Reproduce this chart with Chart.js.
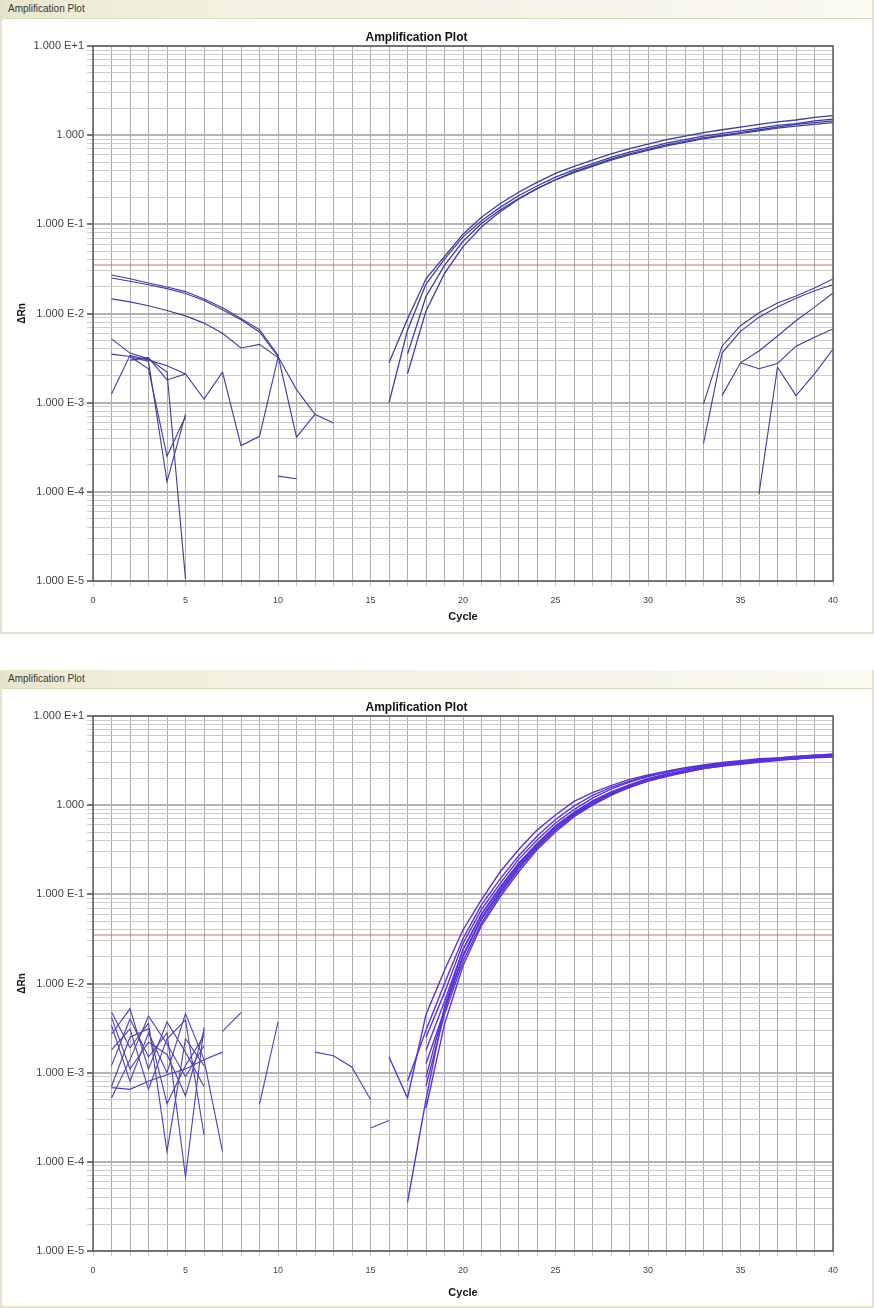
<!DOCTYPE html>
<html lang="en">
<head>
<meta charset="UTF-8">
<script src="https://cdn.jsdelivr.net/npm/chart.js"></script>
<title>Amplification Plot</title>
<style>
  body { margin: 0; background: #fff; font-family: Arial, "Liberation Sans", sans-serif; }
  .panel { position: absolute; left: 0; width: 874px; box-sizing: border-box;
           border: 2px solid #e4e1cf; border-top: none; background: #fff; }
  .bar { position: absolute; left: 0; top: 0; width: 870px; height: 18px;
         background: linear-gradient(to right, #e8e4cc 0%, #f1eedd 14%, #f6f4e8 60%, #faf9f2 100%);
         border-bottom: 1px solid #dcd8c0; }
  .bar span { position: absolute; left: 6px; top: 3px; font-size: 10px; color: #3a3a3a; }
  canvas { position: absolute; left: 0; }
</style>
</head>
<body>
  <div class="panel" style="top:0; height:634px;"><div class="bar"><span>Amplification Plot</span></div></div>
  <div class="panel" style="top:670px; height:638px;"><div class="bar"><span>Amplification Plot</span></div></div>
  <canvas id="plot1" width="874" height="614" style="top:18px;"></canvas>
  <canvas id="plot2" width="874" height="618" style="top:688px;"></canvas>

<script>
// threshold (same in both runs)
const thresholdRn = 0.035;

// ---- run 1 (top) ----
// baseline noise, first cycle of each trace + dRn per cycle
const topNoiseStarts = [1, 1, 1, 1, 1, 1, 2, 2, 10];
const topNoise = [
  [0.025, 0.023, 0.021, 0.019, 0.0168, 0.014, 0.011, 0.0085, 0.0062, 0.0033, 0.0014, 0.00074, 0.00059],
  [0.027, 0.0245, 0.022, 0.0198, 0.0176, 0.0145, 0.0116, 0.0088, 0.0066, 0.0034, 0.00041, 0.00074],
  [0.0146, 0.0135, 0.0122, 0.0108, 0.0094, 0.0078, 0.006, 0.0041, 0.0045, 0.0032],
  [0.0052, 0.0036, 0.0031, 0.0022, 0.0000105],
  [0.0035, 0.0033, 0.0029, 0.00013, 0.00074],
  [0.00125, 0.0034, 0.003, 0.0026, 0.0021],
  [0.003, 0.0032, 0.0018, 0.0021, 0.0011, 0.0022, 0.00033, 0.00042, 0.0032],
  [0.0033, 0.0024, 0.00025, 0.0007],
  [0.00015, 0.00014]
];
// amplified wells
const topAmpStarts = [16, 16, 17, 17];
const topAmp = [
  [0.0028, 0.0087, 0.0245, 0.0437, 0.0776, 0.120, 0.170, 0.229, 0.295, 0.372, 0.447, 0.525, 0.617, 0.708, 0.794, 0.891, 0.977, 1.07, 1.15, 1.23, 1.32, 1.41, 1.48, 1.58, 1.66],
  [0.001, 0.0065, 0.0214, 0.0407, 0.0724, 0.110, 0.155, 0.209, 0.269, 0.339, 0.407, 0.479, 0.562, 0.646, 0.724, 0.813, 0.891, 0.977, 1.05, 1.12, 1.20, 1.29, 1.35, 1.45, 1.51],
  [0.0021, 0.0107, 0.0282, 0.0562, 0.0933, 0.138, 0.191, 0.251, 0.316, 0.389, 0.457, 0.537, 0.617, 0.692, 0.776, 0.851, 0.933, 1.0, 1.07, 1.15, 1.23, 1.32, 1.38, 1.45],
  [0.0035, 0.0155, 0.0347, 0.0646, 0.102, 0.145, 0.195, 0.251, 0.316, 0.38, 0.447, 0.525, 0.603, 0.676, 0.758, 0.832, 0.912, 0.977, 1.05, 1.12, 1.20, 1.26, 1.32, 1.38]
];
// late risers
const topLateStarts = [33, 33, 34, 35, 36];
const topLate = [
  [0.00097, 0.0043, 0.0073, 0.0102, 0.0131, 0.0157, 0.0193, 0.0244],
  [0.00035, 0.0036, 0.0063, 0.0091, 0.0118, 0.0148, 0.018, 0.021],
  [0.0012, 0.0028, 0.0038, 0.0056, 0.0083, 0.0118, 0.017],
  [0.0028, 0.0024, 0.00275, 0.0043, 0.0054, 0.0067],
  [0.000095, 0.0025, 0.0012, 0.0021, 0.004]
];

// ---- run 2 (bottom) ----
const botNoiseStarts = [1, 1, 1, 1, 1, 1, 1, 1, 1, 7, 9, 12, 15];
const botNoise = [
  [0.0048, 0.0019, 0.0036, 0.00013, 0.0024, 0.0012],
  [0.0012, 0.004, 0.0015, 0.0028, 0.000068, 0.0032],
  [0.00052, 0.0014, 0.0043, 0.0021, 0.0009, 0.002],
  [0.0027, 0.0052, 0.0011, 0.0037, 0.0017, 0.0007],
  [0.0034, 0.0008, 0.0028, 0.001, 0.0046, 0.0014, 0.00013],
  [0.0007, 0.0025, 0.0031, 0.00045, 0.0012, 0.0026],
  [0.0018, 0.0031, 0.00065, 0.0024, 0.0039, 0.0002],
  [0.0042, 0.0011, 0.0022, 0.0016, 0.00055, 0.003],
  [0.00068, 0.00065, 0.0008, 0.00095, 0.0011, 0.0014, 0.0017],
  [0.0029, 0.0047],
  [0.00044, 0.0037],
  [0.0017, 0.00155, 0.00115, 0.0005],
  [0.00024, 0.00029]
];
const botAmpStarts = [16, 17, 18, 18, 18, 18, 18, 18, 17];
const botAmp = [
  [0.0015, 0.00052, 0.0045, 0.0141, 0.0398, 0.0871, 0.178, 0.316, 0.525, 0.776, 1.10, 1.38, 1.66, 1.95, 2.19, 2.40, 2.63, 2.82, 3.02, 3.16, 3.31, 3.39, 3.55, 3.63, 3.72],
  [0.000035, 0.0005, 0.0055, 0.024, 0.060, 0.117, 0.219, 0.363, 0.575, 0.813, 1.10, 1.38, 1.66, 1.95, 2.19, 2.40, 2.63, 2.82, 2.95, 3.09, 3.24, 3.31, 3.47, 3.55],
  [0.00126, 0.005, 0.020, 0.0525, 0.105, 0.200, 0.339, 0.537, 0.776, 1.05, 1.32, 1.62, 1.91, 2.14, 2.40, 2.63, 2.82, 2.95, 3.09, 3.24, 3.31, 3.47, 3.55],
  [0.0004, 0.0035, 0.0158, 0.0447, 0.0933, 0.178, 0.316, 0.501, 0.741, 1.0, 1.29, 1.58, 1.86, 2.14, 2.34, 2.57, 2.75, 2.95, 3.09, 3.24, 3.31, 3.47, 3.55],
  [0.0025, 0.0079, 0.0282, 0.0676, 0.132, 0.245, 0.407, 0.631, 0.891, 1.20, 1.51, 1.82, 2.09, 2.34, 2.57, 2.75, 2.95, 3.09, 3.24, 3.39, 3.47, 3.63, 3.72],
  [0.00071, 0.0045, 0.0178, 0.0479, 0.100, 0.191, 0.331, 0.525, 0.759, 1.02, 1.32, 1.58, 1.86, 2.09, 2.34, 2.57, 2.75, 2.88, 3.02, 3.16, 3.31, 3.39, 3.47],
  [0.00178, 0.0063, 0.024, 0.060, 0.120, 0.224, 0.372, 0.589, 0.832, 1.12, 1.41, 1.70, 2.0, 2.24, 2.45, 2.69, 2.88, 3.02, 3.16, 3.31, 3.39, 3.55, 3.63],
  [0.00089, 0.0052, 0.0209, 0.055, 0.110, 0.209, 0.355, 0.562, 0.794, 1.07, 1.35, 1.66, 1.95, 2.19, 2.45, 2.69, 2.88, 3.02, 3.16, 3.31, 3.47, 3.55, 3.63],
  [0.0008, 0.003, 0.01, 0.032, 0.076, 0.148, 0.269, 0.447, 0.692, 0.977, 1.29, 1.58, 1.86, 2.14, 2.34, 2.57, 2.75, 2.95, 3.09, 3.24, 3.31, 3.47, 3.55, 3.63]
];

const yMin = 1e-5, yMax = 10;
const xMin = 0, xMax = 40;

function traces(starts, rows, color, width) {
  return rows.map((row, i) => ({
    data: row.map((v, k) => ({ x: starts[i] + k, y: v })),
    borderColor: color,
    borderWidth: width,
    pointRadius: 0,
    tension: 0,
    fill: false
  }));
}

function thresholdSet() {
  return {
    data: [{ x: xMin, y: thresholdRn }, { x: xMax, y: thresholdRn }],
    borderColor: '#e06a6a', borderWidth: 1.2, pointRadius: 0
  };
}

const isDecade = v => Math.abs(Math.log10(v) - Math.round(Math.log10(v))) < 1e-6;

const frame = {
  id: 'frame',
  afterDatasetsDraw(chart) {
    const { ctx, chartArea: a } = chart;
    ctx.save();
    ctx.strokeStyle = '#5e5e5e';
    ctx.lineWidth = 1.5;
    ctx.strokeRect(a.left, a.top, a.right - a.left, a.bottom - a.top);
    ctx.restore();
  }
};

function makeChart(id, datasets, xBoxHeight, cyclePad) {
  return new Chart(document.getElementById(id), {
    type: 'line',
    data: { datasets },
    plugins: [frame],
    options: {
      responsive: false,
      animation: false,
      layout: { padding: { left: 0, right: 41, top: 0, bottom: 0 } },
      plugins: {
        legend: { display: false },
        tooltip: { enabled: false },
        title: {
          display: true, text: 'Amplification Plot', color: '#111',
          font: { family: 'Arial', size: 12, weight: 'bold' },
          padding: { top: 12, bottom: 1.6 }
        }
      },
      scales: {
        x: {
          type: 'linear', min: xMin, max: xMax,
          afterFit: s => { s.height = xBoxHeight; },
          ticks: {
            stepSize: 1, autoSkip: false, maxRotation: 0, padding: 9,
            color: '#444', font: { family: 'Arial', size: 9 },
            callback: v => (v % 5 === 0 ? String(v) : '')
          },
          grid: { color: '#acacac', lineWidth: 1, tickLength: 5, tickColor: '#c4c4c4' },
          border: { display: false },
          title: {
            display: true, text: 'Cycle', color: '#111',
            font: { family: 'Arial', size: 11, weight: 'bold' },
            padding: { top: 0, bottom: cyclePad }
          }
        },
        y: {
          type: 'logarithmic', min: yMin, max: yMax,
          afterFit: s => { s.width = 93; },
          afterBuildTicks: s => {
            const t = [];
            for (let e = -5; e <= 1; e++) {
              for (let k = 1; k <= 9; k++) {
                const v = k * Math.pow(10, e);
                if (v <= yMax * 1.0001) t.push({ value: v });
              }
            }
            s.ticks = t;
          },
          ticks: {
            autoSkip: false, padding: 3, color: '#444',
            font: { family: 'Arial', size: 11 },
            callback: v => {
              if (!isDecade(v)) return '';
              const e = Math.round(Math.log10(v));
              return e === 0 ? '1.000' : '1.000 E' + (e > 0 ? '+' : '') + e;
            }
          },
          grid: {
            color: c => (c.tick && isDecade(c.tick.value) ? '#b4b4b4' : '#cacaca'),
            lineWidth: c => (c.tick && isDecade(c.tick.value) ? 2 : 1),
            tickLength: 6,
            tickColor: c => (c.tick && isDecade(c.tick.value) ? '#777' : '#cfcfcf')
          },
          border: { display: false },
          title: {
            display: true, text: 'ΔRn', color: '#111',
            font: { family: 'Arial', size: 10, weight: 'bold' },
            padding: { top: 16, bottom: 0 }
          }
        }
      }
    }
  });
}

const topColor = '#3f3c9c';
makeChart('plot1', [
  ...traces(topNoiseStarts, topNoise, topColor, 1.1),
  ...traces(topAmpStarts, topAmp, topColor, 1.3),
  ...traces(topLateStarts, topLate, topColor, 1.1),
  thresholdSet()
], 51, 8.4);

makeChart('plot2', [
  ...traces(botNoiseStarts, botNoise, '#4e3fb4', 1.1),
  ...traces(botAmpStarts, botAmp, '#5a33d4', 1.4),
  thresholdSet()
], 55, 6.4);
</script>
</body>
</html>
